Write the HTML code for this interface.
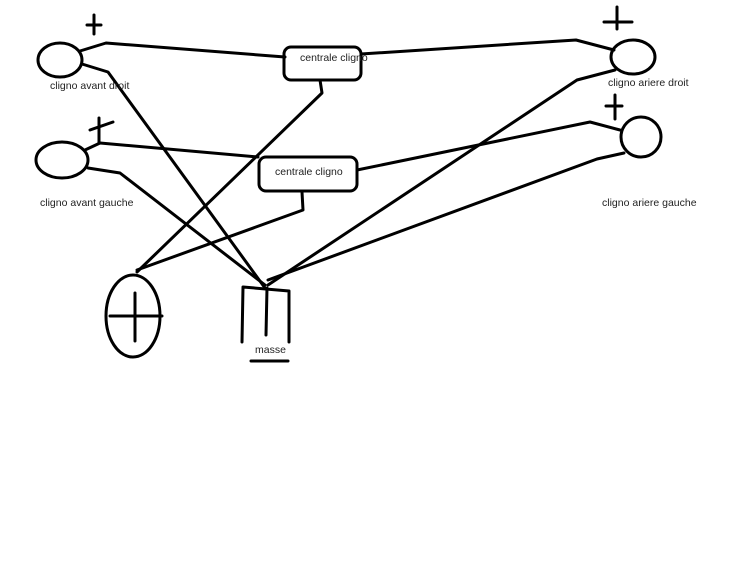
<!DOCTYPE html>
<html><head><meta charset="utf-8"><style>
html,body{margin:0;padding:0;background:#fff;}
svg{display:block;}
text{font-family:"Liberation Sans",sans-serif;font-size:10.5px;fill:#222;}
</style></head><body>
<svg width="750" height="563" viewBox="0 0 750 563" xmlns="http://www.w3.org/2000/svg">
<rect width="750" height="563" fill="#fff"/>
<g fill="none" stroke="#000" stroke-width="3" stroke-linecap="round" stroke-linejoin="round">
<ellipse cx="60" cy="60" rx="22" ry="17"/>
<ellipse cx="62" cy="160" rx="26" ry="18"/>
<ellipse cx="633" cy="57" rx="22" ry="17"/>
<ellipse cx="641" cy="137" rx="20" ry="20"/>
<ellipse cx="133" cy="316" rx="27" ry="41"/>
<path d="M94 15 V34 M87 25 H101"/>
<path d="M99 118 V143 M90 130 L113 122"/>
<path d="M617 7 V29 M604 22 H632"/>
<path d="M615 95 V119 M606 106 H622"/>
<path d="M135 293 V341 M110 316 H162"/>
<rect x="284" y="47" width="77" height="33" rx="7"/>
<rect x="259" y="157" width="98" height="34" rx="7"/>
<path d="M80 51 L106 43 L285 57"/>
<path d="M361 54 L576 40 L614 50"/>
<path d="M82 64 L108 72 L265 288"/>
<path d="M320 80 L322 93 L137 272"/>
<path d="M85 150 L100 143 L258 157"/>
<path d="M357 170 L590 122 L620 130"/>
<path d="M88 168 L120 173 L265 285"/>
<path d="M302 192 L303 210 L137 270"/>
<path d="M615 70 L577 80 L268 285"/>
<path d="M624 153 L597 159 L268 280"/>
<path d="M242 342 L243 287 L289 291 L289 342"/>
<path d="M267 288 L266 335"/>
<path d="M251 361 H288"/>
</g>
<text x="50" y="89">cligno avant droit</text>
<text x="40" y="206">cligno avant gauche</text>
<text x="608" y="86">cligno ariere droit</text>
<text x="602" y="206">cligno ariere gauche</text>
<text x="300" y="61">centrale cligno</text>
<text x="275" y="175">centrale cligno</text>
<text x="255" y="353">masse</text>
</svg>
</body></html>
